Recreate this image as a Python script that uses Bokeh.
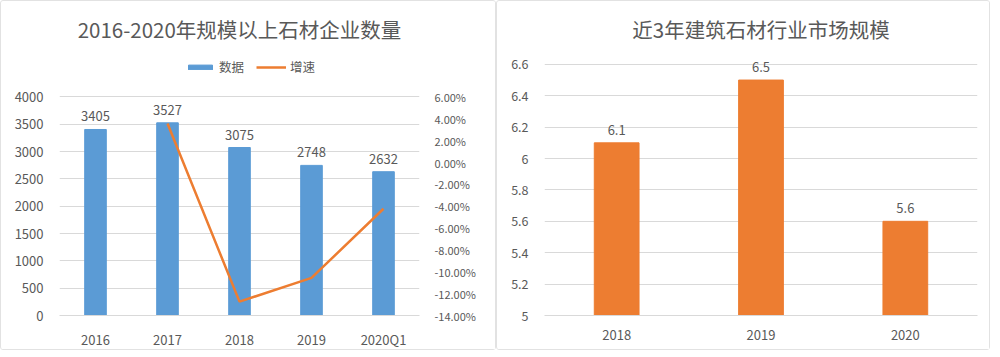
from bokeh.plotting import figure
from bokeh.models import (Range1d, LinearAxis, FixedTicker, PrintfTickFormatter,
                          Legend, LegendItem, LabelSet, ColumnDataSource)
from bokeh.core.properties import value
from bokeh.layouts import row
from bokeh.embed import file_html
from bokeh.resources import INLINE

# ---------------- data ----------------
years_left = ["2016", "2017", "2018", "2019", "2020Q1"]
counts = [3405, 3527, 3075, 2748, 2632]
growth_years = ["2017", "2018", "2019", "2020Q1"]
growth_pct = [3.58, -12.73, -10.56, -4.23]
count_ticks = [0, 500, 1000, 1500, 2000, 2500, 3000, 3500, 4000]
pct_ticks = [-14, -12, -10, -8, -6, -4, -2, 0, 2, 4, 6]

years_right = ["2018", "2019", "2020"]
market = [6.1, 6.5, 5.6]
market_ticks = [5, 5.2, 5.4, 5.6, 5.8, 6, 6.2, 6.4, 6.6]

title_left = "2016-2020年规模以上石材企业数量"
title_right = "近3年建筑石材行业市场规模"
legend_labels = ["数据", "增速"]

# ---------------- style ----------------
FONT = "Noto Sans CJK SC"
TXT = "#595959"
GRID = "#D9D9D9"
BLUE = "#5B9BD5"
ORANGE = "#ED7D31"
H = 350
TOP = 50          # common frame top (px)
BOTTOM = 317      # frame bottom (px)
FRAME_H = BOTTOM - TOP
LEFT_AXIS_H = 221   # px covered by the left chart's tick span
RIGHT_AXIS_H = 254  # px covered by the right chart's tick span


def style_common(p):
    p.outline_line_color = None
    p.xgrid.grid_line_color = None
    p.ygrid.grid_line_color = GRID
    p.title.align = "center"
    p.title.text_font = FONT
    p.title.text_font_size = "20.5px"
    p.title.text_font_style = "normal"
    p.title.text_color = TXT
    p.title.standoff = 15
    for ax in p.xaxis + p.yaxis:
        ax.major_tick_line_color = None
        ax.minor_tick_line_color = None
        ax.major_label_text_font = FONT
        ax.major_label_text_font_size = "13px"
        ax.major_label_text_color = TXT
    for ax in p.yaxis:
        ax.axis_line_color = None
        ax.major_label_standoff = 10
    for ax in p.xaxis:
        ax.axis_line_color = GRID
        ax.major_label_standoff = 8


def extend(lo, hi, span_px):
    return lo + (hi - lo) * FRAME_H / span_px


# ---------------- left chart ----------------
src_l = ColumnDataSource(dict(x=years_left, y=counts, lab=[str(c) for c in counts]))
p1 = figure(x_range=years_left,
            y_range=Range1d(count_ticks[0], extend(count_ticks[0], count_ticks[-1], LEFT_AXIS_H)),
            width=496, height=H,
            output_backend="svg", toolbar_location=None,
            min_border_left=58, min_border_right=78, min_border_top=TOP,
            min_border_bottom=H - BOTTOM,
            title=title_left,
            styles={"border": "1px solid #E2E2E2", "border-radius": "3px"})
p1.extra_y_ranges = {"pct": Range1d(pct_ticks[0], extend(pct_ticks[0], pct_ticks[-1], LEFT_AXIS_H))}
bars = p1.vbar(x="x", top="y", width=0.3, source=src_l, color=BLUE)
ln = p1.line(growth_years, growth_pct, y_range_name="pct", line_color=ORANGE, line_width=2.5)
p1.yaxis.ticker = FixedTicker(ticks=count_ticks)
p1.ygrid.ticker = FixedTicker(ticks=count_ticks)
ax2 = LinearAxis(y_range_name="pct", ticker=FixedTicker(ticks=pct_ticks),
                 formatter=PrintfTickFormatter(format="%.2f%%"))
p1.add_layout(ax2, "right")
style_common(p1)
p1.title.offset = 7
ax2.major_label_standoff = 9
ax2.major_label_text_font_size = "11px"

p1.add_layout(LabelSet(x="x", y="y", text="lab", source=src_l, text_align="center",
                       text_baseline="bottom", y_offset=8, text_font=value(FONT),
                       text_font_size=value("13px"), text_color=TXT))

leg = Legend(items=[LegendItem(label=legend_labels[0], renderers=[bars]),
                    LegendItem(label=legend_labels[1], renderers=[ln])],
             orientation="horizontal", location=(126, FRAME_H - 28),
             border_line_color=None, background_fill_alpha=0, padding=0, margin=0,
             label_text_font=FONT, label_text_font_size="12.5px", label_text_color=TXT,
             glyph_width=30, glyph_height=6, spacing=12, label_standoff=4)
p1.add_layout(leg)

# ---------------- right chart ----------------
src_r = ColumnDataSource(dict(x=years_right, y=market, lab=[f"{v:g}" for v in market],
                              b=[market_ticks[0]] * len(market)))
p2 = figure(x_range=years_right,
            y_range=Range1d(market_ticks[0], extend(market_ticks[0], market_ticks[-1], RIGHT_AXIS_H)),
            width=494, height=H, output_backend="svg", toolbar_location=None,
            min_border_left=47, min_border_right=14, min_border_top=TOP,
            min_border_bottom=H - BOTTOM,
            title=title_right,
            styles={"border": "1px solid #E2E2E2", "border-radius": "3px"})
p2.vbar(x="x", top="y", bottom="b", width=0.31, source=src_r, color=ORANGE)
p2.yaxis.ticker = FixedTicker(ticks=market_ticks)
p2.ygrid.ticker = FixedTicker(ticks=market_ticks)
p2.yaxis.major_label_overrides = {t: f"{t:g}" for t in market_ticks}
style_common(p2)
p2.title.offset = -10
p2.yaxis.major_label_text_font_size = "12.5px"
p2.yaxis.major_label_standoff = 10
p2.add_layout(LabelSet(x="x", y="y", text="lab", source=src_r, text_align="center",
                       text_baseline="bottom", y_offset=8, text_font=value(FONT),
                       text_font_size=value("13px"), text_color=TXT))

layout = row(p1, p2)
open("out.html", "w").write(file_html(layout, INLINE))
